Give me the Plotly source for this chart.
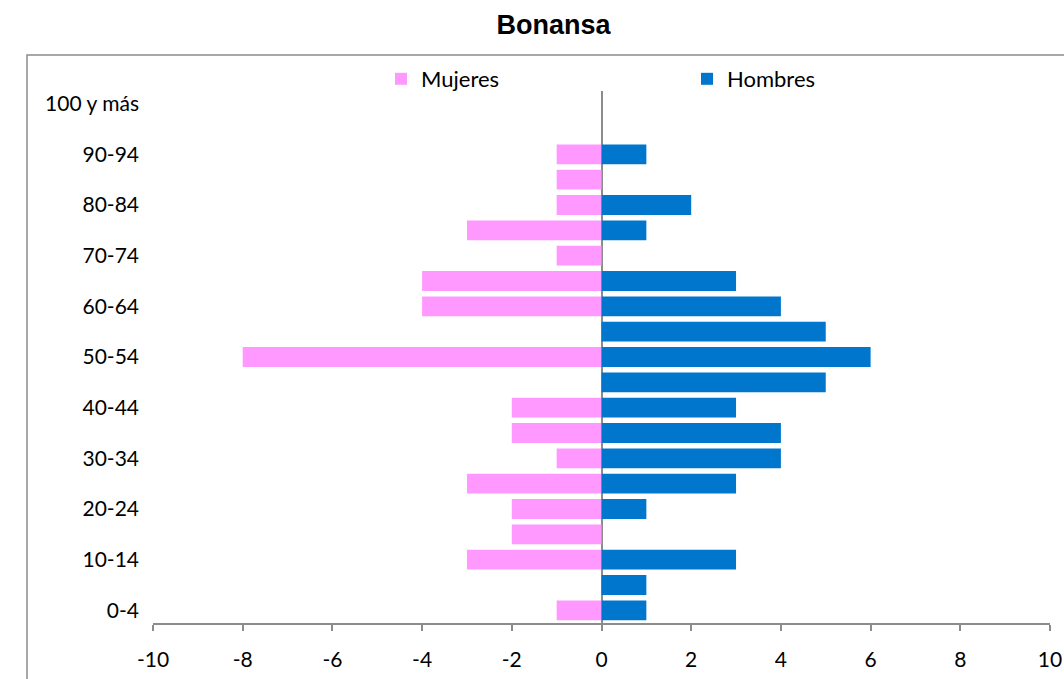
import plotly.graph_objects as go

age_groups = ["0-4", "5-9", "10-14", "15-19", "20-24", "25-29", "30-34", "35-39",
              "40-44", "45-49", "50-54", "55-59", "60-64", "65-69", "70-74", "75-79",
              "80-84", "85-89", "90-94", "95-99", "100 y más"]
mujeres = [-1, 0, -3, -2, -2, -3, -1, -2, -2, 0, -8, 0, -4, -4, -1, -3, -1, -1, -1, 0, 0]
hombres = [1, 1, 3, 0, 1, 3, 4, 4, 3, 5, 6, 5, 4, 3, 0, 1, 2, 0, 1, 0, 0]
x_ticks = [-10, -8, -6, -4, -2, 0, 2, 4, 6, 8, 10]
y_ticks = age_groups[::2]

FONT = "Lato"
W, H = 1064, 679
L = 153
R = W - 1050
T = 91
B = H - 623
pw, ph = W - L - R, H - T - B


def px_x(p):
    return (p - L) / pw


def px_y(p):
    return 1 - (p - T) / ph


fig = go.Figure()
fig.add_trace(go.Bar(y=age_groups, x=mujeres, orientation="h", name="Mujeres",
                     marker=dict(color="#FF99FF", line=dict(width=0))))
fig.add_trace(go.Bar(y=age_groups, x=hombres, orientation="h", name="Hombres",
                     marker=dict(color="#0077CC", line=dict(width=0))))

fig.update_layout(
    width=W, height=H, autosize=False,
    margin=dict(l=L, r=R, t=T, b=B, autoexpand=False),
    paper_bgcolor="white", plot_bgcolor="white",
    barmode="overlay", bargap=0.22,
    font=dict(family=FONT, size=21, color="black"),
    title=dict(text="<b>Bonansa</b>", font=dict(family="Liberation Sans, Arial", size=27, color="black"),
               x=px_x(553.5), xref="paper", xanchor="center",
               y=1 - 25 / H, yref="container", yanchor="middle"),
    legend=dict(orientation="h", x=px_x(381), xanchor="left",
                y=px_y(79), yanchor="middle",
                entrywidth=261, entrywidthmode="pixels",
                font=dict(family=FONT, size=22), bgcolor="rgba(0,0,0,0)",
                traceorder="normal"),
    xaxis=dict(range=[-10, 10], tickvals=x_ticks, ticktext=[str(v) for v in x_ticks],
               automargin=False,
               showgrid=False, zeroline=True, zerolinecolor="#8C8C8C", zerolinewidth=1.5,
               showline=True, linecolor="#8C8C8C", linewidth=1.5,
               ticks="outside", ticklen=6, tickcolor="#8C8C8C", tickwidth=1.5,
               tickfont=dict(family=FONT, size=21), ticklabelstandoff=11),
    yaxis=dict(type="category", categoryorder="array", categoryarray=age_groups,
               range=[-0.5, len(age_groups) - 0.5], tickvals=y_ticks, ticktext=y_ticks,
               automargin=False,
               showgrid=False, zeroline=False, showline=False, ticks="",
               tickfont=dict(family=FONT, size=21), ticklabelstandoff=13),
    shapes=[dict(type="rect", xref="paper", yref="paper",
                 x0=px_x(27), x1=px_x(1080),
                 y0=px_y(700), y1=px_y(55),
                 line=dict(color="#8C8C8C", width=1.5), fillcolor="rgba(0,0,0,0)", layer="below")],
)

fig.write_html("out.html", config={"displayModeBar": False},
               post_script="document.body.style.margin='0';document.body.style.overflow='hidden';")
